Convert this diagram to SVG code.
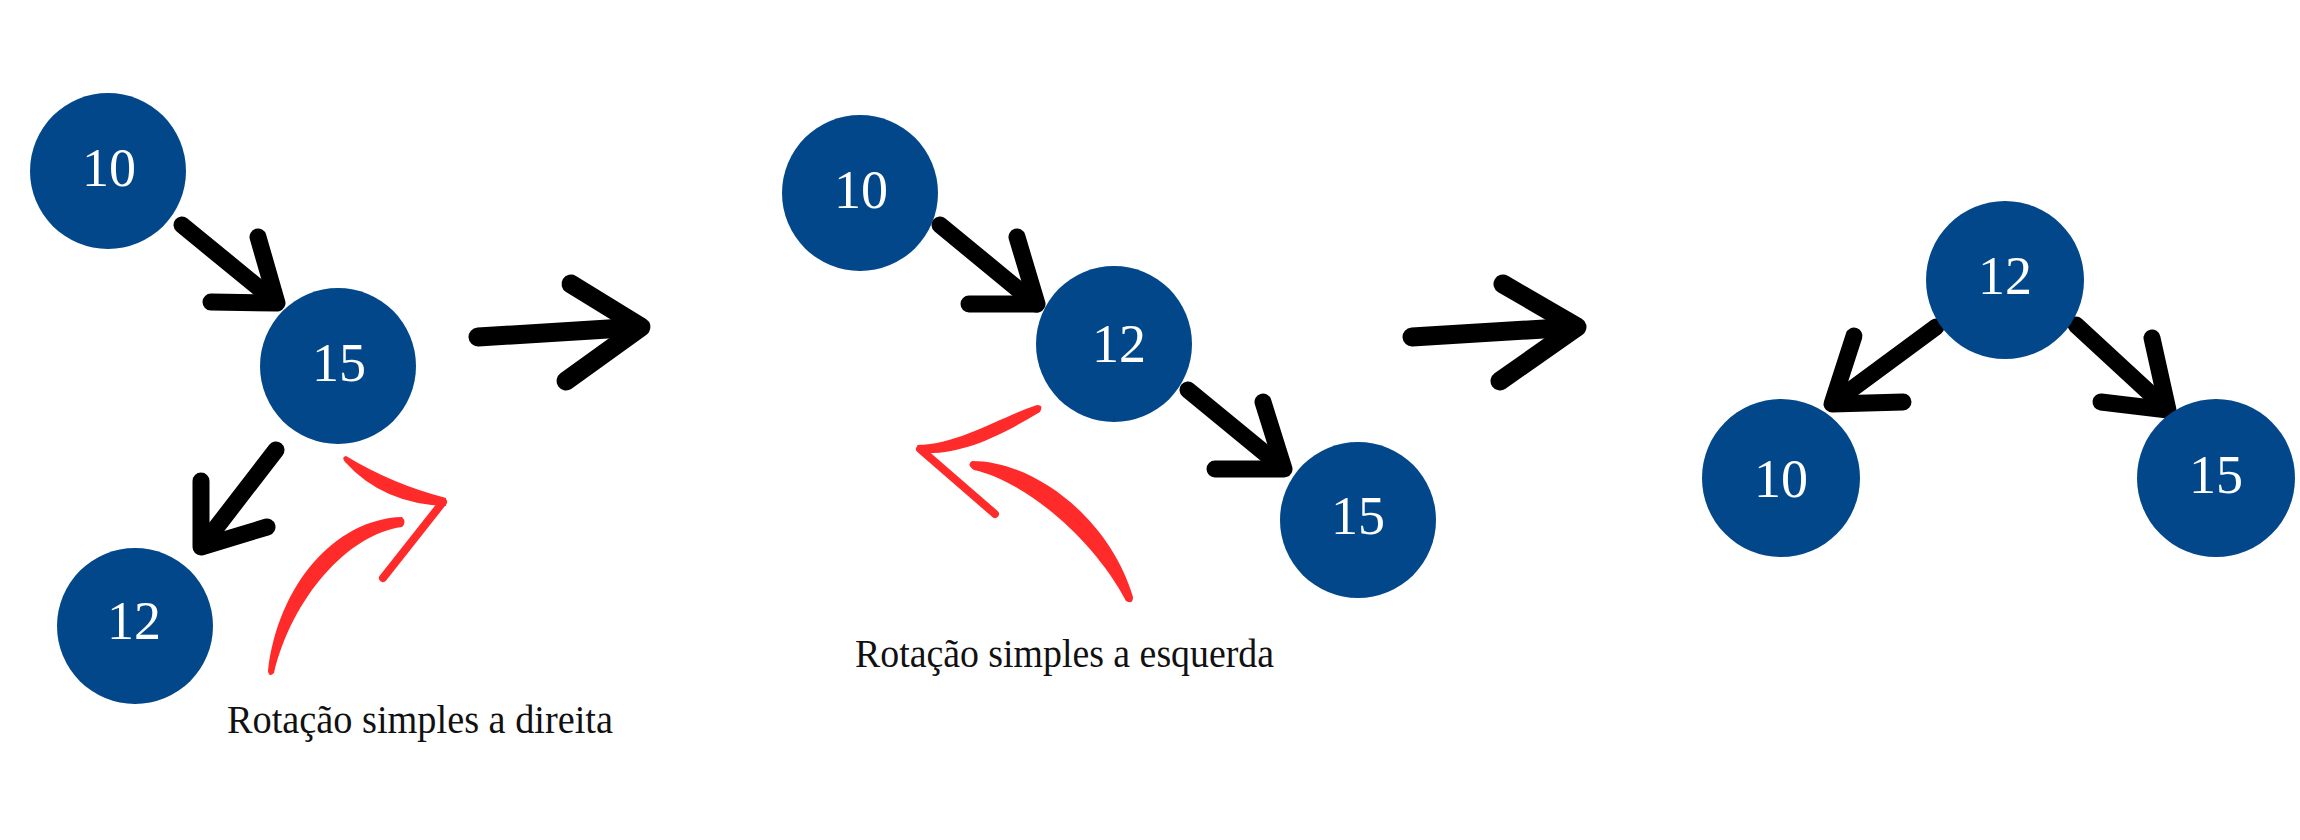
<svg xmlns="http://www.w3.org/2000/svg" width="2300" height="840" viewBox="0 0 2300 840">
<style>
.node{fill:#03478b}
.lbl{fill:#ffffff;font-family:"Liberation Serif","DejaVu Serif",serif;font-size:54px;text-anchor:middle}
.cap{fill:#111111;font-family:"Liberation Serif","DejaVu Serif",serif;font-size:40px}
.arr{fill:none;stroke:#000000;stroke-width:17;stroke-linecap:round;stroke-linejoin:round}
.big{stroke-width:19}
.red{fill:#ff2b2b}
.redl{fill:none;stroke:#ff2b2b;stroke-width:8;stroke-linecap:round;stroke-linejoin:miter}
</style>
<rect width="2300" height="840" fill="#ffffff"/>
<g id="connectors">
  <path class="arr" d="M182,225 L276,302"/>
  <path class="arr" d="M258,237 L277,303 L211,302"/>
  <path class="arr" d="M276,450 L202,546"/>
  <path class="arr" d="M201,481 L201,547 L267,527"/>
  <path class="arr" d="M940,225 L1036,304"/>
  <path class="arr" d="M1017,237 L1037,304 L969,304"/>
  <path class="arr" d="M1188,390 L1283,468"/>
  <path class="arr" d="M1263,402 L1284,469 L1215,469"/>
  <path class="arr" d="M1936,327 L1833,403"/>
  <path class="arr" d="M1854,336 L1832,404 L1903,402"/>
  <path class="arr" d="M2076,325 L2167,409"/>
  <path class="arr" d="M2152,338 L2168,410 L2101,402"/>
  <path class="arr big" d="M478,337 L640,327"/>
  <path class="arr big" d="M571,284 L641,327 L566,381"/>
  <path class="arr big" d="M1412,337 L1576,327"/>
  <path class="arr big" d="M1503,284 L1577,327 L1500,381"/>
</g>
<g id="rotation-right-arrow">
  <path class="red" d="M346,456 Q392,484 446,498 L446,506 Q383,504 345,462 Q341,457 346,456 Z"/>
  <path class="redl" d="M443,502 L383,578"/>
  <path class="red" d="M402,517 C335,519 278,585 268,671 Q269,678 274,673 C292,598 348,534 402,527 Q407,522 402,517 Z"/>
</g>
<g id="rotation-left-arrow">
  <path class="red" d="M1037,405 C1000,417 960,444 917,445 L922,453 C964,455 1003,434 1040,412 Q1044,405 1037,405 Z"/>
  <path class="redl" d="M920,449 L995,514"/>
  <path class="red" d="M972,461 C1035,461 1110,519 1133,597 Q1133,605 1126,601 C1094,540 1027,482 974,470 Q966,465 972,461 Z"/>
</g>
<g id="node-l10"><circle class="node" cx="108" cy="171" r="78"/><text class="lbl" x="109" y="186">10</text></g>
<g id="node-l15"><circle class="node" cx="338" cy="366" r="78"/><text class="lbl" x="339" y="381">15</text></g>
<g id="node-l12"><circle class="node" cx="135" cy="626" r="78"/><text class="lbl" x="134" y="639">12</text></g>
<g id="node-m10"><circle class="node" cx="860" cy="193" r="78"/><text class="lbl" x="861" y="208">10</text></g>
<g id="node-m12"><circle class="node" cx="1114" cy="344" r="78"/><text class="lbl" x="1119" y="362">12</text></g>
<g id="node-m15"><circle class="node" cx="1358" cy="520" r="78"/><text class="lbl" x="1358" y="534">15</text></g>
<g id="node-r12"><circle class="node" cx="2005" cy="280" r="79"/><text class="lbl" x="2005" y="294">12</text></g>
<g id="node-r10"><circle class="node" cx="1781" cy="478" r="79"/><text class="lbl" x="1781" y="497">10</text></g>
<g id="node-r15"><circle class="node" cx="2216" cy="478" r="79"/><text class="lbl" x="2216" y="493">15</text></g>
<g id="captions">
  <text class="cap" x="227" y="733" textLength="386" lengthAdjust="spacingAndGlyphs">Rotação simples a direita</text>
  <text class="cap" x="855" y="667" textLength="419" lengthAdjust="spacingAndGlyphs">Rotação simples a esquerda</text>
</g>
</svg>
